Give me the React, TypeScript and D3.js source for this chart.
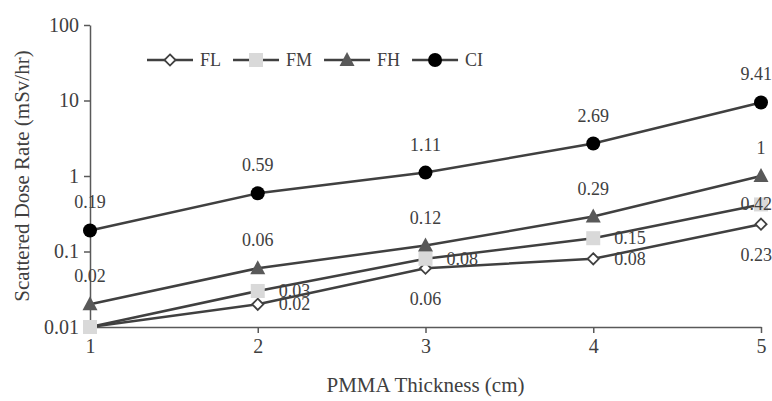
import React, { useEffect, useRef } from 'react';
import * as d3 from 'd3';

// chart data
const thickness = [1, 2, 3, 4, 5];
const seriesNames = ['FL', 'FM', 'FH', 'CI'];
const flValues = [0.01, 0.02, 0.06, 0.08, 0.23];
const fmValues = [0.01, 0.03, 0.08, 0.15, 0.42];
const fhValues = [0.02, 0.06, 0.12, 0.29, 1];
const ciValues = [0.19, 0.59, 1.11, 2.69, 9.41];
const yTicks = [0.01, 0.1, 1, 10, 100];

// where each data label sits relative to its point ('' = no label)
const flLabelPos = ['', 'right', 'below', 'right', 'below'];
const fmLabelPos = ['', 'right', 'right', 'right', 'right'];
const fhLabelPos = ['above', 'above', 'above', 'above', 'above'];
const ciLabelPos = ['above', 'above', 'above', 'above', 'above'];

const W = 772;
const H = 401;
const FONT = '"Liberation Serif", "Times New Roman", serif';
const LINE = '#404040';
const TEXT = '#404040';

const series = [
  { name: seriesNames[0], values: flValues, labels: flLabelPos, marker: 'diamond' },
  { name: seriesNames[1], values: fmValues, labels: fmLabelPos, marker: 'square' },
  { name: seriesNames[2], values: fhValues, labels: fhLabelPos, marker: 'triangle' },
  { name: seriesNames[3], values: ciValues, labels: ciLabelPos, marker: 'circle' },
];

const drawMarker = (g, type, cx, cy) => {
  if (type === 'diamond') {
    g.append('path')
      .attr('d', d3.symbol(d3.symbolDiamond2, 80)())
      .attr('transform', `translate(${cx},${cy})`)
      .attr('fill', '#fff')
      .attr('stroke', LINE)
      .attr('stroke-width', 1.8);
  } else if (type === 'square') {
    g.append('rect')
      .attr('x', cx - 7).attr('y', cy - 7)
      .attr('width', 14).attr('height', 14)
      .attr('fill', '#d9d9d9');
  } else if (type === 'triangle') {
    g.append('path')
      .attr('d', `M${cx},${cy - 8}L${cx + 7.5},${cy + 6}L${cx - 7.5},${cy + 6}Z`)
      .attr('fill', '#595959');
  } else {
    g.append('circle')
      .attr('cx', cx).attr('cy', cy).attr('r', 7)
      .attr('fill', '#000');
  }
};

const DoseChart = () => {
  const svgRef = useRef(null);

  useEffect(() => {
    const svg = d3.select(svgRef.current);
    svg.selectAll('*').remove();

    const x = d3.scaleLinear().domain([1, 5]).range([90, 761]);
    const y = d3.scaleLog().domain([0.01, 100]).range([327, 25]);

    // y axis
    const yAxis = svg.append('g').attr('transform', `translate(${x(1)},0)`)
      .call(d3.axisLeft(y).tickValues(yTicks).tickSize(6).tickSizeOuter(0).tickFormat(d => String(d)));
    yAxis.select('.domain').attr('stroke', '#595959').attr('stroke-width', 1.5);
    yAxis.selectAll('line').attr('stroke', '#595959').attr('stroke-width', 1.5);
    yAxis.selectAll('text')
      .attr('x', -11)
      .style('font-family', FONT).style('font-size', '20px').attr('fill', TEXT);

    // x axis
    const xAxis = svg.append('g').attr('transform', `translate(0,${y(0.01)})`)
      .call(d3.axisBottom(x).tickValues(thickness).tickSize(6).tickSizeOuter(0).tickFormat(d3.format('d')));
    xAxis.select('.domain').attr('stroke', '#595959').attr('stroke-width', 1.5);
    xAxis.selectAll('line').attr('stroke', '#595959').attr('stroke-width', 1.5);
    xAxis.selectAll('text')
      .attr('y', 12)
      .style('font-family', FONT).style('font-size', '20px').attr('fill', TEXT);

    // axis titles
    svg.append('text')
      .attr('x', (x(1) + x(5)) / 2).attr('y', 392)
      .attr('text-anchor', 'middle')
      .style('font-family', FONT).style('font-size', '21px').attr('fill', TEXT)
      .text('PMMA Thickness (cm)');
    svg.append('text')
      .attr('transform', `translate(29,${176}) rotate(-90)`)
      .attr('text-anchor', 'middle')
      .style('font-family', FONT).style('font-size', '21px').attr('fill', TEXT)
      .text('Scattered Dose Rate (mSv/hr)');

    const line = d3.line().x((d, i) => x(thickness[i])).y(d => y(d));

    // series: line + markers
    series.forEach(s => {
      const g = svg.append('g');
      g.append('path')
        .attr('d', line(s.values))
        .attr('fill', 'none')
        .attr('stroke', LINE)
        .attr('stroke-width', 2.5);
      s.values.forEach((v, i) => drawMarker(g, s.marker, x(thickness[i]), y(v)));
    });

    // data labels
    const labels = svg.append('g')
      .style('font-family', FONT).style('font-size', '18px').attr('fill', TEXT);
    series.forEach(s => {
      s.values.forEach((v, i) => {
        const pos = s.labels[i];
        if (!pos) return;
        const px = x(thickness[i]);
        const py = y(v);
        const t = labels.append('text').text(String(v));
        if (pos === 'above') {
          t.attr('x', px).attr('y', py - 22).attr('text-anchor', 'middle');
        } else if (pos === 'below') {
          t.attr('x', px).attr('y', py + 37).attr('text-anchor', 'middle');
        } else {
          t.attr('x', px + 21).attr('y', py + 6);
        }
        // keep labels inside the chart area
        const bb = t.node().getBBox();
        if (bb.x + bb.width > W) {
          t.attr('text-anchor', 'end').attr('x', W);
        }
      });
    });

    // legend
    const legend = svg.append('g').attr('transform', 'translate(147,60)');
    let lx = 0;
    series.forEach(s => {
      const item = legend.append('g').attr('transform', `translate(${lx},0)`);
      item.append('line')
        .attr('x1', 0).attr('x2', 46).attr('y1', 0).attr('y2', 0)
        .attr('stroke', LINE).attr('stroke-width', 2.5);
      drawMarker(item, s.marker, 23, 0);
      const txt = item.append('text')
        .attr('x', 53).attr('y', 6)
        .style('font-family', FONT).style('font-size', '18px').attr('fill', TEXT)
        .text(s.name);
      lx += 53 + txt.node().getComputedTextLength() + 12;
    });
  }, []);

  return (
    <svg ref={svgRef} width={W} height={H}
      style={{ position: 'absolute', left: 0, top: 0, background: '#fff' }} />
  );
};

export default function App() {
  return <DoseChart />;
}
